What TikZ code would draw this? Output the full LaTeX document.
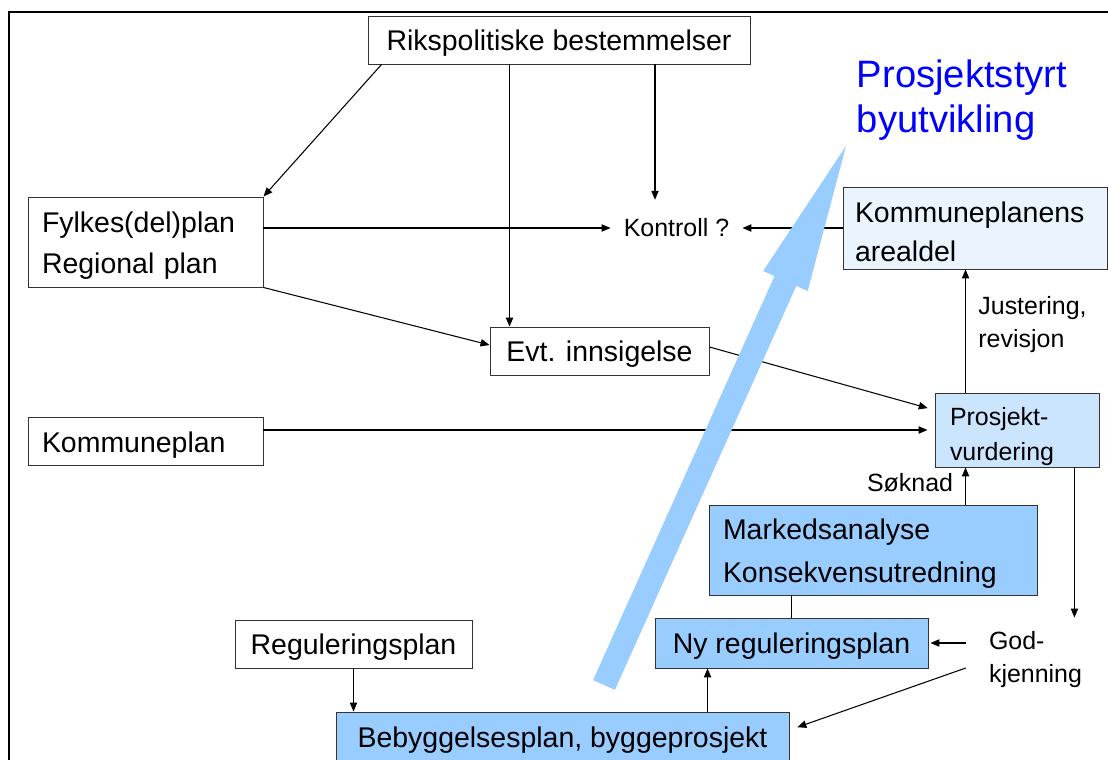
\documentclass[tikz,border=0pt]{standalone}
\usepackage{fontspec}
\setmainfont{Liberation Sans}
\usetikzlibrary{arrows.meta,positioning}
\definecolor{boxgray}{HTML}{333333}
\definecolor{fillpale}{HTML}{EAF4FF}
\definecolor{filllight}{HTML}{CCE5FF}
\definecolor{fillblue}{HTML}{99CCFF}
\definecolor{titleblue}{HTML}{0000FF}

\begin{document}
\begin{tikzpicture}[
  >={Triangle[length=0.27cm,width=0.22cm]},
  flow/.style={->, draw=black, line width=0.9pt},
  tie/.style={draw=black, line width=0.9pt},
  box/.style={draw=boxgray, line width=0.8pt, inner xsep=0.42cm, inner ysep=0pt, align=left, font=\fontsize{24.3}{35}\selectfont, execute at begin node={\rule{0pt}{1em}}},
  cbox/.style={draw=boxgray, line width=0.8pt, inner sep=0pt, align=center, font=\fontsize{24.3}{29}\selectfont, execute at begin node={\rule{0pt}{0.95em}}},
  note/.style={inner sep=0pt, align=left, font=\fontsize{21.3}{28.2}\selectfont}
]
  \useasboundingbox (0,0) rectangle (33.24,-22.8);
  \draw[line width=1.7pt] (0.27,-22.9) -- (0.27,-0.36) -- (33.3,-0.36);

  \node[cbox, minimum width=11.46cm, minimum height=1.44cm] (riks) at (16.77,-1.2) {Rikspolitiske bestemmelser};
  \node[box, text width=6.21cm, minimum height=2.7cm] (fylke) at (4.365,-7.26) {Fylkes(del)plan\\Regional plan};
  \node[box, text width=6.21cm, minimum height=1.44cm] (kommplan) at (4.365,-13.23) {Kommuneplan};
  \node[cbox, minimum width=6.57cm, minimum height=1.44cm] (evt) at (17.985,-10.53) {Evt. innsigelse};
  \node[font=\fontsize{21.3}{26}\selectfont, inner xsep=0.39cm, inner ysep=0pt, minimum height=1.68cm] (kontroll) at (20.295,-6.84) {Kontroll ?};
  \node[box, fill=fillpale, inner xsep=0.36cm, text width=7.2cm, minimum height=2.46cm, font=\fontsize{24.3}{33.3}\selectfont] (kpa) at (29.25,-6.84) {Kommuneplanens\\arealdel};
  \node[box, fill=filllight, inner xsep=0.45cm, text width=4.02cm, minimum height=2.22cm, font=\fontsize{21.3}{29.9}\selectfont, execute at begin node={\rule{0pt}{1.25em}}] (prosj) at (30.51,-12.9) {Prosjekt-\\vurdering};
  \node[box, fill=fillblue, text width=9.0cm, minimum height=2.7cm, font=\fontsize{24.3}{36.7}\selectfont] (markeds) at (26.19,-16.5) {Markedsanalyse\\Konsekvensutredning};
  \node[cbox, fill=fillblue, minimum width=8.19cm, minimum height=1.5cm] (ny) at (23.745,-19.29) {Ny reguleringsplan};
  \node[cbox, minimum width=7.11cm, minimum height=1.44cm] (regplan) at (10.605,-19.32) {Reguleringsplan};
  \node[cbox, fill=fillblue, minimum width=13.59cm, minimum height=1.5cm] (bebygg) at (16.875,-22.11) {Bebyggelsesplan, byggeprosjekt};
  \node[note] (godk) at (31.065,-19.8) {God-\\kjenning};
  \node[note] (just) at (30.975,-9.75) {Justering,\\revisjon};
  \node[note] (soknad) at (27.3,-14.49) {Søknad};
  \node[align=left, inner sep=0pt, text=titleblue, font=\fontsize{32.6}{38.4}\selectfont] (title) at (28.86,-3.0) {Prosjektstyrt\\byutvikling};

  \draw[flow] ([xshift=0.42cm]riks.south west) -- (fylke.north east);
  \coordinate (evtin) at ([xshift=0.6cm]evt.north west);
  \draw[flow] (evtin |- riks.south) -- (evtin);
  \coordinate (kin) at ([xshift=-0.645cm]kontroll.north);
  \draw[flow] (kin |- riks.south) -- (kin);
  \draw[flow] (fylke.east |- kontroll.west) -- (kontroll.west);
  \draw[flow] (kpa.west) -- (kontroll.east);
  \draw[flow] (fylke.south east) -- ([yshift=0.18cm]evt.west);
  \draw[flow, shorten >=0.21cm] ([yshift=0.12cm]evt.east) -- ([yshift=0.6cm]prosj.west);
  \draw[flow, shorten >=0.21cm] (kommplan.east |- prosj.west) -- (prosj.west);
  \coordinate (pin) at ([xshift=0.93cm]prosj.north west);
  \draw[flow] (pin) -- (pin |- kpa.south);
  \draw[flow] (pin |- markeds.north) -- (pin |- prosj.south);
  \coordinate (pout) at ([xshift=-0.75cm]prosj.south east);
  \draw[flow] (pout) -- (pout |- ny.north);
  \coordinate (gin) at ([xshift=-0.69cm]godk.west);
  \draw[flow, shorten >=0.06cm] (gin |- ny.east) -- (ny.east);
  \draw[flow, shorten >=0.25cm] ([yshift=-0.24cm]gin) -- ([yshift=0.21cm]bebygg.east);
  \draw[flow] (regplan.south) -- (regplan.south |- bebygg.north);
  \coordinate (nin) at ([xshift=1.59cm]ny.south west);
  \draw[flow] (nin |- bebygg.north) -- (nin);
  \draw[tie] (ny.north) -- (ny.north |- markeds.south);

  \fill[fillblue] (17.793,-20.403) -- (23.235,-8.283) -- (22.893,-8.13) -- (25.38,-4.38)
    -- (24.231,-8.73) -- (23.889,-8.577) -- (18.447,-20.697) -- cycle;
\end{tikzpicture}
\end{document}
